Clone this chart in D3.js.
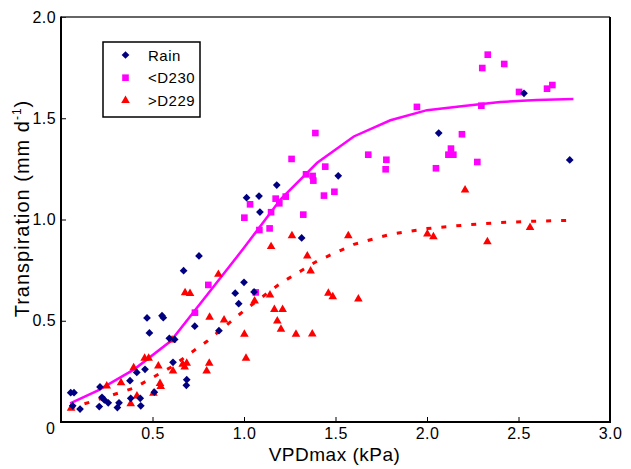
<!DOCTYPE html>
<html>
<head>
<meta charset="utf-8">
<script src="https://cdn.jsdelivr.net/npm/d3@7"></script>
<style>
  body { margin: 0; background: #fff; }
  svg { font-family: "Liberation Sans", Arial, sans-serif; }
</style>
</head>
<body>
<div id="chart"></div>
<script>
// Rain (navy diamonds)
const rainVpd = [0.053, 0.071, 0.064, 0.104, 0.213, 0.209, 0.224, 0.237, 0.258, 0.308, 0.317, 0.377, 0.381, 0.414, 0.436,
  0.433, 0.459, 0.470, 0.483, 0.510, 0.552, 0.559, 0.592, 0.621, 0.612, 0.670, 0.685, 0.687, 0.731, 0.754, 0.863, 0.952,
  0.971, 1.000, 1.055, 1.315, 1.014, 1.082, 1.179, 1.087, 1.515, 2.064, 2.530, 2.780]
const rainT = [0.145, 0.145, 0.080, 0.064, 0.173, 0.076, 0.122, 0.109, 0.095, 0.071, 0.095, 0.204, 0.117, 0.245, 0.080,
  0.117, 0.260, 0.514, 0.440, 0.147, 0.525, 0.515, 0.413, 0.408, 0.295, 0.747, 0.181, 0.209, 0.473, 0.820, 0.451, 0.636,
  0.584, 0.690, 0.642, 0.909, 1.108, 1.116, 1.170, 1.037, 1.216, 1.427, 1.623, 1.294]

// <D230 (magenta squares)
const earlyVpd = [0.732, 0.805, 1.064, 1.002, 1.033, 1.084, 1.140, 1.148, 1.173, 1.193, 1.228, 1.260, 1.324, 1.339, 1.375,
  1.379, 1.390, 1.437, 1.444, 1.494, 1.679, 1.778, 1.774, 1.945, 2.049, 2.117, 2.131, 2.144, 2.191, 2.275, 2.297, 2.302,
  2.332, 2.422, 2.503, 2.656, 2.685]
const earlyT = [0.540, 0.677, 0.640, 1.009, 1.075, 0.948, 0.956, 1.036, 1.103, 1.080, 1.113, 1.299, 1.024, 1.223, 1.215,
  1.192, 1.427, 1.118, 1.261, 1.137, 1.320, 1.295, 1.248, 1.556, 1.253, 1.320, 1.350, 1.320, 1.421, 1.284, 1.562, 1.748,
  1.814, 1.768, 1.630, 1.646, 1.664]

// >D229 (red triangles)
const lateVpd = [0.055, 0.250, 0.328, 0.381, 0.397, 0.415, 0.457, 0.479, 0.505, 0.532, 0.541, 0.545, 0.607, 0.612, 0.665,
  0.676, 0.687, 0.678, 0.705, 0.796, 0.810, 0.812, 0.860, 0.891, 1.002, 1.011, 1.058, 1.142, 1.148, 1.166, 1.211, 1.182,
  1.202, 1.262, 1.284, 1.346, 1.364, 1.373, 1.461, 1.485, 1.570, 1.625, 2.002, 2.035, 2.208, 2.330, 2.563]
const lateT = [0.068, 0.178, 0.194, 0.090, 0.268, 0.128, 0.315, 0.315, 0.142, 0.277, 0.190, 0.175, 0.405, 0.252, 0.285,
  0.272, 0.290, 0.638, 0.635, 0.252, 0.290, 0.517, 0.729, 0.504, 0.433, 0.315, 0.598, 0.627, 0.866, 0.556, 0.556, 0.499,
  0.458, 0.920, 0.433, 0.820, 0.746, 0.435, 0.636, 0.619, 0.920, 0.607, 0.928, 0.915, 1.146, 0.890, 0.961]

// fitted curves
const fitVpd = [0.05, 0.2, 0.4, 0.6, 0.8, 1.0, 1.2, 1.4, 1.6, 1.8, 2.0, 2.2, 2.4, 2.6, 2.8]
const fitEarly = [0.092, 0.155, 0.26, 0.40, 0.63, 0.86, 1.10, 1.28, 1.41, 1.49, 1.54, 1.56, 1.58, 1.59, 1.595]
const fitLate = [0.068, 0.11, 0.168, 0.27, 0.40, 0.55, 0.685, 0.795, 0.877, 0.927, 0.955, 0.972, 0.985, 0.992, 0.996]

const xTicks = [0.5, 1.0, 1.5, 2.0, 2.5, 3.0]
const yTicks = [0.5, 1.0, 1.5, 2.0]
const legendLabels = ["Rain", "<D230", ">D229"]

const width = 631, height = 469
const margin = { top: 17, right: 21, bottom: 47, left: 61 }

const svg = d3.select('#chart').append('svg')
  .attr('width', width)
  .attr('height', height)

const x = d3.scaleLinear().domain([0, 3]).range([margin.left, width - margin.right])
const y = d3.scaleLinear().domain([0, 2]).range([height - margin.bottom, margin.top])

const zip = (a, b) => a.map((v, i) => [v, b[i]])

// axes (ticks point inward)
svg.append('g')
  .attr('transform', `translate(0, ${y(0)})`)
  .call(d3.axisBottom(x).tickValues(xTicks).tickFormat(d3.format('.1f')).tickSizeInner(-5).tickSizeOuter(0).tickPadding(6))
  .call(g => g.select('.domain').remove())
  .call(g => g.selectAll('text').attr('font-size', 16).attr('fill', '#000').attr('font-family', null).attr('letter-spacing', 0.4))

svg.append('g')
  .attr('transform', `translate(${x(0)}, 0)`)
  .call(d3.axisLeft(y).tickValues(yTicks).tickFormat(d3.format('.1f')).tickSizeInner(-5).tickSizeOuter(0).tickPadding(5))
  .call(g => g.select('.domain').remove())
  .call(g => g.selectAll('text').attr('font-size', 16).attr('fill', '#000').attr('font-family', null).attr('letter-spacing', 0.4))

// shared origin label
svg.append('text')
  .attr('x', x(0) - 6).attr('y', y(0) + 12)
  .attr('text-anchor', 'end')
  .attr('font-size', 16)
  .text('0')

// frame
const frame = svg.append('g')
frame.append('line').attr('x1', x(0)).attr('x2', x(3)).attr('y1', y(2)).attr('y2', y(2))
  .attr('stroke', '#333').attr('stroke-width', 1.5)
frame.append('line').attr('x1', x(3)).attr('x2', x(3)).attr('y1', y(2)).attr('y2', y(0))
  .attr('stroke', '#000').attr('stroke-width', 2)
frame.append('line').attr('x1', x(0)).attr('x2', x(0)).attr('y1', y(2) - 0.5).attr('y2', y(0) + 1)
  .attr('stroke', '#000').attr('stroke-width', 2)
frame.append('line').attr('x1', x(0) - 1).attr('x2', x(3) + 1).attr('y1', y(0)).attr('y2', y(0))
  .attr('stroke', '#000').attr('stroke-width', 2)

// fitted lines
const line = d3.line().x(d => x(d[0])).y(d => y(d[1]))
svg.append('path')
  .datum(zip(fitVpd, fitEarly))
  .attr('d', line)
  .attr('fill', 'none')
  .attr('stroke', '#ff00ff')
  .attr('stroke-width', 2.5)

svg.append('path')
  .datum(zip(fitVpd, fitLate))
  .attr('d', line)
  .attr('fill', 'none')
  .attr('stroke', '#ff0000')
  .attr('stroke-width', 3)
  .attr('stroke-dasharray', '5,10')

// points
const diamond = d3.symbol().type(d3.symbolSquare).size(30)
const square = d3.symbol().type(d3.symbolSquare).size(44)
const triangle = d3.symbol().type(d3.symbolTriangle).size(32)

svg.append('g').selectAll('path')
  .data(zip(lateVpd, lateT))
  .join('path')
  .attr('d', triangle)
  .attr('transform', d => `translate(${x(d[0])}, ${y(d[1])})`)
  .attr('fill', '#ff0000')

svg.append('g').selectAll('path')
  .data(zip(earlyVpd, earlyT))
  .join('path')
  .attr('d', square)
  .attr('transform', d => `translate(${x(d[0])}, ${y(d[1])})`)
  .attr('fill', '#ff00ff')

svg.append('g').selectAll('path')
  .data(zip(rainVpd, rainT))
  .join('path')
  .attr('d', diamond)
  .attr('transform', d => `translate(${x(d[0])}, ${y(d[1])}) rotate(45)`)
  .attr('fill', '#000080')

// legend
const legend = svg.append('g').attr('transform', 'translate(103, 42)')
legend.append('rect')
  .attr('width', 97).attr('height', 75)
  .attr('fill', '#fff').attr('stroke', '#000').attr('stroke-width', 1.5)
const legendShapes = [diamond, square, triangle]
const legendColors = ['#000080', '#ff00ff', '#ff0000']
legendLabels.forEach((label, i) => {
  const cy = 13 + i * 22.7
  legend.append('path')
    .attr('d', legendShapes[i])
    .attr('transform', `translate(22.5, ${cy})` + (i === 0 ? ' rotate(45)' : ''))
    .attr('fill', legendColors[i])
  legend.append('text')
    .attr('x', 45).attr('y', cy + 5.5)
    .attr('font-size', 15)
    .attr('letter-spacing', 0.5)
    .text(label)
})

// axis titles
svg.append('text')
  .attr('x', (x(0) + x(3)) / 2 - 1)
  .attr('y', 461)
  .attr('text-anchor', 'middle')
  .attr('font-size', 19)
  .attr('letter-spacing', 0.5)
  .text('VPDmax (kPa)')

const yTitle = svg.append('text')
  .attr('transform', `translate(29, ${(y(0) + y(2)) / 2 - 11}) rotate(-90)`)
  .attr('text-anchor', 'middle')
  .attr('font-size', 20)
  .attr('letter-spacing', 1)
yTitle.append('tspan').text('Transpiration (mm d')
yTitle.append('tspan').attr('font-size', 12).attr('dy', -8).text('-1')
yTitle.append('tspan').attr('dy', 8).text(')')
</script>
</body>
</html>
